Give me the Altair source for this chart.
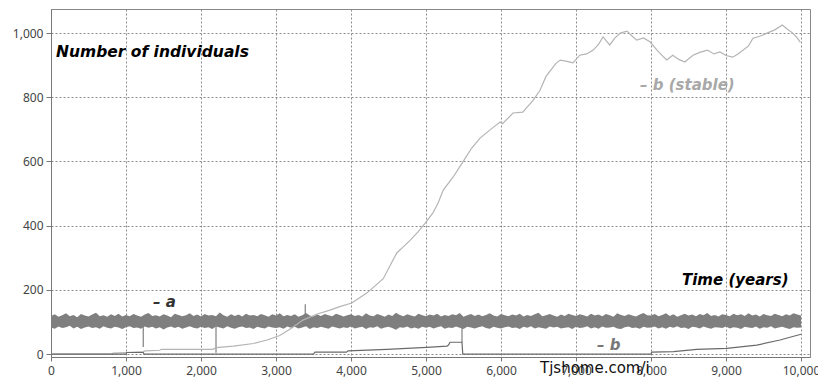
import altair as alt
import pandas as pd

# ---------------- data ----------------
x_ticks = [0, 1000, 2000, 3000, 4000, 5000, 6000, 7000, 8000, 9000, 10000]
y_ticks = [0, 100, 200, 300, 400, 500, 600, 700, 800, 900, 1000]

# series "a": noisy band around 100 (envelope every 50 years, 0..10000)
a_years = list(range(0, 10001, 50))
a_hi = [119, 124, 116, 121, 127, 118, 122, 115, 125, 120, 117, 123, 129, 118, 121, 116, 124, 119, 126, 117,
        122, 118, 125, 120, 116, 123, 128, 119, 121, 117, 124, 120, 115, 126, 122, 118, 121, 127, 119, 123,
        117, 125, 120, 122, 118, 130, 121, 116, 124, 119, 123, 117, 126, 120, 122, 118, 125, 121, 116, 124,
        120, 127, 118, 122, 119, 124, 116, 121, 128, 120, 117, 123, 119, 125, 121, 118, 126, 122, 117, 121,
        124, 119, 122, 117, 127, 120, 118, 125, 121, 116, 123, 119, 129, 122, 118, 124, 120, 117, 126, 121,
        118, 123, 120, 126, 117, 122, 119, 124, 121, 128, 116, 121, 125, 119, 123, 118, 122, 127, 120, 117,
        125, 121, 118, 123, 120, 126, 117, 122, 119, 124, 129, 118, 121, 125, 120, 116, 123, 119, 126, 122,
        119, 124, 121, 117, 126, 120, 123, 118, 125, 121, 116, 127, 122, 119, 124, 120, 117, 123, 128, 121,
        120, 125, 118, 122, 127, 119, 124, 116, 121, 126, 120, 123, 118, 125, 121, 128, 119, 122, 117, 124,
        122, 118, 126, 121, 124, 119, 127, 120, 123, 117, 125, 121, 119, 126, 122, 118, 124, 120, 127, 123,
        120]
a_lo = [83, 79, 86, 81, 84, 88, 80, 85, 78, 83, 86, 81, 84, 79, 87, 82, 80, 85, 83, 78,
        84, 87, 81, 83, 79, 86, 82, 85, 80, 84, 77, 83, 86, 81, 85, 79, 83, 87, 82, 80,
        85, 81, 84, 78, 86, 83, 80, 87, 82, 79, 84, 86, 81, 83, 78, 85, 82, 80, 86, 83,
        81, 84, 79, 86, 82, 85, 80, 83, 87, 78, 84, 81, 85, 82, 79, 86, 83, 80, 84, 81,
        86, 80, 83, 85, 78, 84, 82, 87, 79, 83, 85, 81, 76, 84, 82, 86, 80, 83, 79, 85,
        82, 85, 80, 84, 87, 79, 83, 81, 86, 82, 78, 85, 83, 80, 84, 87, 81, 79, 85, 82,
        80, 84, 86, 81, 83, 78, 85, 82, 87, 80, 84, 81, 79, 86, 83, 85, 80, 82, 84, 78,
        85, 81, 83, 87, 80, 84, 79, 86, 82, 83, 85, 80, 78, 84, 86, 81, 83, 79, 85, 82,
        83, 86, 80, 84, 79, 85, 82, 87, 81, 83, 78, 85, 84, 80, 86, 82, 79, 84, 83, 81,
        86, 80, 84, 82, 78, 85, 83, 81, 86, 79, 84, 82, 87, 80, 83, 85, 81, 78, 84, 82,
        83]
# isolated excursions of "a"
a_spike_year = [1230, 2200, 3390, 5480]
a_spike_val = [22, 4, 155, 37]

# series "b (stable)"
bs_year = [0, 800, 830, 1000, 1230, 1260, 1450, 1470, 2160, 2200, 2430, 2700, 2880,
           3050, 3200, 3360, 3550, 3720, 3850, 4010, 4210, 4430, 4560, 4610, 4700,
           4790, 4890, 4990, 5090, 5160, 5230, 5360, 5490, 5610, 5720, 5810, 5900,
           5990, 6020, 6160, 6290, 6430, 6520, 6600, 6730, 6790, 6880, 6960, 7050,
           7140, 7230, 7300, 7360, 7450, 7520, 7590, 7680, 7750, 7810, 7900, 7990,
           8080, 8150, 8210, 8290, 8370, 8450, 8560, 8650, 8750, 8840, 8920, 9000,
           9090, 9160, 9230, 9300, 9360, 9450, 9547, 9650, 9750, 9820, 9890, 9950, 9990]
bs_val = [0, 0, 3, 5, 8, 10, 12, 15, 15, 20, 25, 33, 44,
          58, 80, 106, 125, 137, 148, 159, 190, 235, 293, 315, 335,
          355, 380, 408, 439, 470, 511, 551, 598, 642, 673, 690, 707,
          723, 718, 751, 754, 791, 822, 865, 905, 916, 912, 907, 931,
          935, 947, 965, 988, 963, 985, 1000, 1006, 990, 978, 985, 972,
          947, 930, 916, 931, 918, 910, 931, 940, 947, 935, 941, 930,
          925, 935, 947, 960, 984, 990, 1000, 1010, 1025, 1012, 1000, 985, 972]

# series "b"
b_year = [0, 1000, 1010, 1230, 1240, 3500, 3520, 3940, 3960, 4480, 5010, 5280,
          5300, 5320, 5470, 5480, 5490, 8000, 8010, 8300, 8610, 9010, 9410, 9720, 10000]
b_val = [0, 0, 5, 5, 0, 0, 6, 6, 10, 15, 21, 25,
         28, 37, 37, 37, 0, 0, 6, 8, 15, 18, 28, 44, 62]

# ---------------- tables ----------------
df_a = pd.DataFrame({"year": a_years, "hi": a_hi, "lo": a_lo})
df_sp = pd.DataFrame({"year": a_spike_year, "val": a_spike_val, "base": [100] * len(a_spike_year)})
df_bs = pd.DataFrame({"year": bs_year, "val": bs_val})
df_b = pd.DataFrame({"year": b_year, "val": b_val})

FONT = "DejaVu Sans"
LABEL_FONT = "Noto Sans"

xscale = alt.Scale(domain=[0, 10120], nice=False, zero=False)
yscale = alt.Scale(domain=[-9, 1075], nice=False, zero=False)

xaxis = alt.Axis(values=x_ticks, format=",.0f", title=None, labelFont=LABEL_FONT,
                 labelFontSize=12, labelColor="#444", tickColor="#777", tickSize=4,
                 domainColor="#777", labelPadding=4, grid=True, gridDash=[2, 2],
                 gridColor="#8a8a8a", labelFlush=False)
yaxis = alt.Axis(values=y_ticks, format=",.0f", title=None, labelFont=LABEL_FONT,
                 labelFontSize=12, labelColor="#444", tickColor="#777", tickSize=5,
                 domainColor="#777", labelPadding=3, grid=True, gridDash=[2, 2],
                 gridColor="#8a8a8a")

band = alt.Chart(df_a).mark_area(color="#7f7f7f", opacity=1, interpolate="linear").encode(
    x=alt.X("year:Q", scale=xscale, axis=xaxis),
    y=alt.Y("lo:Q", scale=yscale, axis=yaxis),
    y2="hi:Q",
)

spikes = alt.Chart(df_sp).mark_rule(color="#808080", strokeWidth=1.2).encode(
    x=alt.X("year:Q", scale=xscale),
    y=alt.Y("base:Q", scale=yscale),
    y2="val:Q",
)

line_bs = alt.Chart(df_bs).mark_line(color="#b4b4b4", strokeWidth=1.2).encode(
    x=alt.X("year:Q", scale=xscale),
    y=alt.Y("val:Q", scale=yscale),
)

line_b = alt.Chart(df_b).mark_line(color="#6a6a6a", strokeWidth=1.2, interpolate="linear").encode(
    x=alt.X("year:Q", scale=xscale),
    y=alt.Y("val:Q", scale=yscale),
)


def label(txt, px, py, color, size=15, weight="bold", style="italic", font=FONT):
    return alt.Chart(pd.DataFrame({"t": [txt]})).mark_text(
        align="left", baseline="alphabetic", font=font, fontSize=size,
        fontWeight=weight, fontStyle=style, color=color,
    ).encode(x=alt.value(px), y=alt.value(py), text="t:N")


texts = [
    label("Number of individuals", 5, 48, "#000", size=15.5),
    label("– b (stable)", 589, 81, "#a8a8a8"),
    label("– a", 102, 298, "#333"),
    label("Time (years)", 631, 276, "#000"),
    label("– b", 546, 341, "#777"),
    label("Tjshome.com/i", 489, 364, "#111", size=15, weight="normal", style="normal"),
]

chart = alt.layer(band, spikes, line_bs, line_b, *texts).properties(
    width=759, height=348,
    padding={"left": 51, "top": 9, "right": 8, "bottom": 21},
    autosize=alt.AutoSizeParams(type="none"),
    background="white",
).configure_view(stroke="#888", strokeWidth=1)

chart.save("out.html", embed_options={"renderer": "svg", "actions": False})
